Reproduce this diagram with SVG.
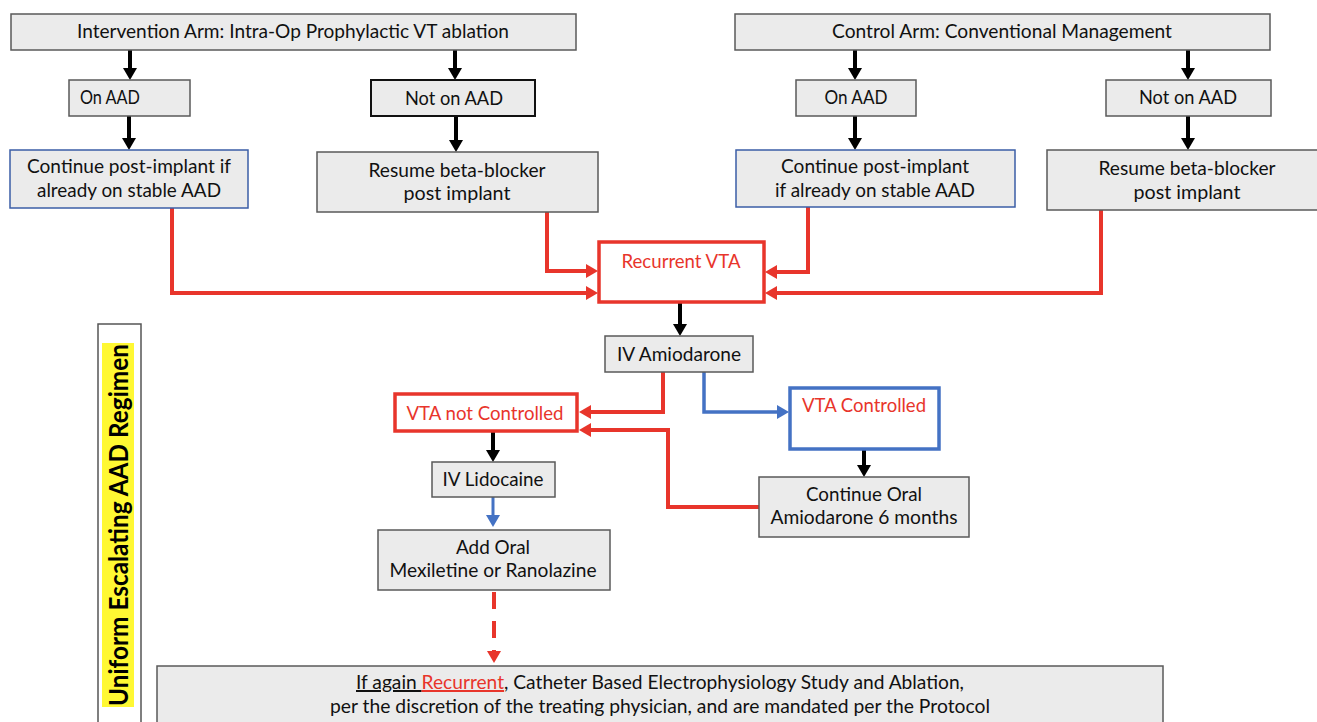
<svg xmlns="http://www.w3.org/2000/svg" width="1317" height="722" viewBox="0 0 1317 722">
<style>
.box{fill:#ebebeb;stroke:#5a5a5a;stroke-width:1.5}
.bbox{fill:#ebebeb;stroke:#3b5ea6;stroke-width:1.5}
.kbox{fill:#ebebeb;stroke:#111;stroke-width:2}
.rbox{fill:#fff;stroke:#e8352b;stroke-width:3.5}
.blbox{fill:#fff;stroke:#4472c4;stroke-width:3.5}
text{font-family:Lato,"Open Sans","Liberation Sans",sans-serif;font-size:20px;fill:#111}
.c{text-anchor:middle}
.red{fill:#e8352b}
.k{fill:none;stroke:#000;stroke-width:4}
.r{fill:none;stroke:#e8352b;stroke-width:4}
.b{fill:none;stroke:#4472c4;stroke-width:3.5}
</style>
<defs>
<marker id="mk" markerUnits="userSpaceOnUse" markerWidth="12" markerHeight="14" refX="0" refY="7" orient="auto"><path d="M0,0 L12,7 L0,14 z" fill="#000"/></marker>
<marker id="mr" markerUnits="userSpaceOnUse" markerWidth="12" markerHeight="14" refX="0" refY="7" orient="auto"><path d="M0,0 L12,7 L0,14 z" fill="#e8352b"/></marker>
<marker id="mb" markerUnits="userSpaceOnUse" markerWidth="12" markerHeight="14" refX="0" refY="7" orient="auto"><path d="M0,0 L12,7 L0,14 z" fill="#4472c4"/></marker>
</defs>
<rect width="1317" height="722" fill="#fff"/>

<g id="regimen-label">
<rect x="98" y="324" width="43" height="410" fill="#fff" stroke="#555" stroke-width="1.5"/>
<rect x="102" y="343" width="32" height="364" fill="#fff833"/>
<text transform="translate(128,525) rotate(-90)" class="c" style="font-weight:bold;font-size:26px;fill:#000" textLength="362" lengthAdjust="spacingAndGlyphs">Uniform Escalating AAD Regimen</text>
</g>

<g id="connectors">
<path class="k" d="M130,50 V68" marker-end="url(#mk)"/>
<path class="k" d="M455,50 V68" marker-end="url(#mk)"/>
<path class="k" d="M855,50 V68" marker-end="url(#mk)"/>
<path class="k" d="M1188,50 V68" marker-end="url(#mk)"/>
<path class="k" d="M129,116 V138" marker-end="url(#mk)"/>
<path class="k" d="M456,116 V140" marker-end="url(#mk)"/>
<path class="k" d="M855,116 V138" marker-end="url(#mk)"/>
<path class="k" d="M1188,116 V138" marker-end="url(#mk)"/>
<path class="r" d="M172,208 V293 H586" marker-end="url(#mr)"/>
<path class="r" d="M547,212 V271 H586" marker-end="url(#mr)"/>
<path class="r" d="M808,207 V272 H777" marker-end="url(#mr)"/>
<path class="r" d="M1101,210 V293 H777" marker-end="url(#mr)"/>
<path class="k" d="M680,302 V324" marker-end="url(#mk)"/>
<path class="r" d="M663,372 V412 H591" marker-end="url(#mr)"/>
<path class="b" d="M704,372 V412 H777" marker-end="url(#mb)"/>
<path class="r" d="M759,507 H668 V430 H591" marker-end="url(#mr)"/>
<path class="k" d="M864,450 V465" marker-end="url(#mk)"/>
<path class="k" d="M493,431 V450" marker-end="url(#mk)"/>
<path class="b" style="stroke-width:3" d="M493,497 V515" marker-end="url(#mb)"/>
<path class="r" d="M494,592 V651" stroke-dasharray="17 12" marker-end="url(#mr)"/>
</g>

<g id="intervention-arm">
<rect class="box" x="11" y="14" width="565" height="36"/>
<text x="293" y="38" class="c" textLength="432" lengthAdjust="spacingAndGlyphs">Intervention Arm: Intra-Op Prophylactic VT ablation</text>
</g>
<g id="control-arm">
<rect class="box" x="735" y="14" width="535" height="36"/>
<text x="1002" y="38" class="c" textLength="340" lengthAdjust="spacingAndGlyphs">Control Arm: Conventional Management</text>
</g>
<g id="int-on-aad">
<rect class="box" x="69" y="80" width="121" height="36"/>
<text x="80" y="104" textLength="60" lengthAdjust="spacingAndGlyphs">On AAD</text>
</g>
<g id="int-not-on-aad">
<rect class="kbox" x="371" y="80" width="164" height="36"/>
<text x="454" y="105" class="c" textLength="98" lengthAdjust="spacingAndGlyphs">Not on AAD</text>
</g>
<g id="int-continue">
<rect class="bbox" x="10" y="150" width="238" height="58"/>
<text x="129" y="173" class="c" textLength="204" lengthAdjust="spacingAndGlyphs">Continue post-implant if</text>
<text x="129" y="197" class="c" textLength="184" lengthAdjust="spacingAndGlyphs">already on stable AAD</text>
</g>
<g id="int-resume">
<rect class="box" x="317" y="152" width="281" height="60"/>
<text x="457" y="177" class="c" textLength="177" lengthAdjust="spacingAndGlyphs">Resume beta-blocker</text>
<text x="457" y="200" class="c" textLength="107" lengthAdjust="spacingAndGlyphs">post implant</text>
</g>
<g id="ctl-on-aad">
<rect class="box" x="796" y="80" width="120" height="36"/>
<text x="856" y="104" class="c" textLength="63" lengthAdjust="spacingAndGlyphs">On AAD</text>
</g>
<g id="ctl-not-on-aad">
<rect class="box" x="1106" y="80" width="165" height="36"/>
<text x="1188" y="104" class="c" textLength="98" lengthAdjust="spacingAndGlyphs">Not on AAD</text>
</g>
<g id="ctl-continue">
<rect class="bbox" x="736" y="150" width="279" height="57"/>
<text x="875" y="173" class="c" textLength="188" lengthAdjust="spacingAndGlyphs">Continue post-implant</text>
<text x="875" y="197" class="c" textLength="200" lengthAdjust="spacingAndGlyphs">if already on stable AAD</text>
</g>
<g id="ctl-resume">
<rect class="box" x="1047" y="150" width="275" height="60"/>
<text x="1187" y="175" class="c" textLength="177" lengthAdjust="spacingAndGlyphs">Resume beta-blocker</text>
<text x="1187" y="199" class="c" textLength="107" lengthAdjust="spacingAndGlyphs">post implant</text>
</g>
<g id="recurrent-vta">
<rect class="rbox" x="599" y="242" width="165" height="60"/>
<text x="681" y="268" class="c red" textLength="119" lengthAdjust="spacingAndGlyphs">Recurrent VTA</text>
</g>
<g id="iv-amiodarone">
<rect class="box" x="605" y="336" width="148" height="36"/>
<text x="679" y="361" class="c" textLength="124" lengthAdjust="spacingAndGlyphs">IV Amiodarone</text>
</g>
<g id="vta-not-controlled">
<rect class="rbox" x="395" y="394" width="182" height="37"/>
<text x="485" y="420" class="c red" textLength="157" lengthAdjust="spacingAndGlyphs">VTA not Controlled</text>
</g>
<g id="vta-controlled">
<rect class="blbox" x="790" y="388" width="149" height="61"/>
<text x="864" y="412" class="c red" textLength="124" lengthAdjust="spacingAndGlyphs">VTA Controlled</text>
</g>
<g id="continue-oral">
<rect class="box" x="759" y="477" width="210" height="60"/>
<text x="864" y="501" class="c" textLength="116" lengthAdjust="spacingAndGlyphs">Continue Oral</text>
<text x="864" y="524" class="c" textLength="187" lengthAdjust="spacingAndGlyphs">Amiodarone 6 months</text>
</g>
<g id="iv-lidocaine">
<rect class="box" x="432" y="462" width="123" height="35"/>
<text x="493" y="486" class="c" textLength="101" lengthAdjust="spacingAndGlyphs">IV Lidocaine</text>
</g>
<g id="add-oral">
<rect class="box" x="378" y="530" width="232" height="60"/>
<text x="493" y="554" class="c" textLength="74" lengthAdjust="spacingAndGlyphs">Add Oral</text>
<text x="493" y="577" class="c" textLength="207" lengthAdjust="spacingAndGlyphs">Mexiletine or Ranolazine</text>
</g>
<g id="ablation">
<rect class="box" x="157" y="666" width="1006" height="70"/>
<text x="660" y="689" class="c" textLength="608" lengthAdjust="spacingAndGlyphs"><tspan text-decoration="underline">If again </tspan><tspan class="red" text-decoration="underline">Recurrent</tspan>, Catheter Based Electrophysiology Study and Ablation,</text>
<text x="660" y="713" class="c" textLength="660" lengthAdjust="spacingAndGlyphs">per the discretion of the treating physician, and are mandated per the Protocol</text>
</g>
</svg>
